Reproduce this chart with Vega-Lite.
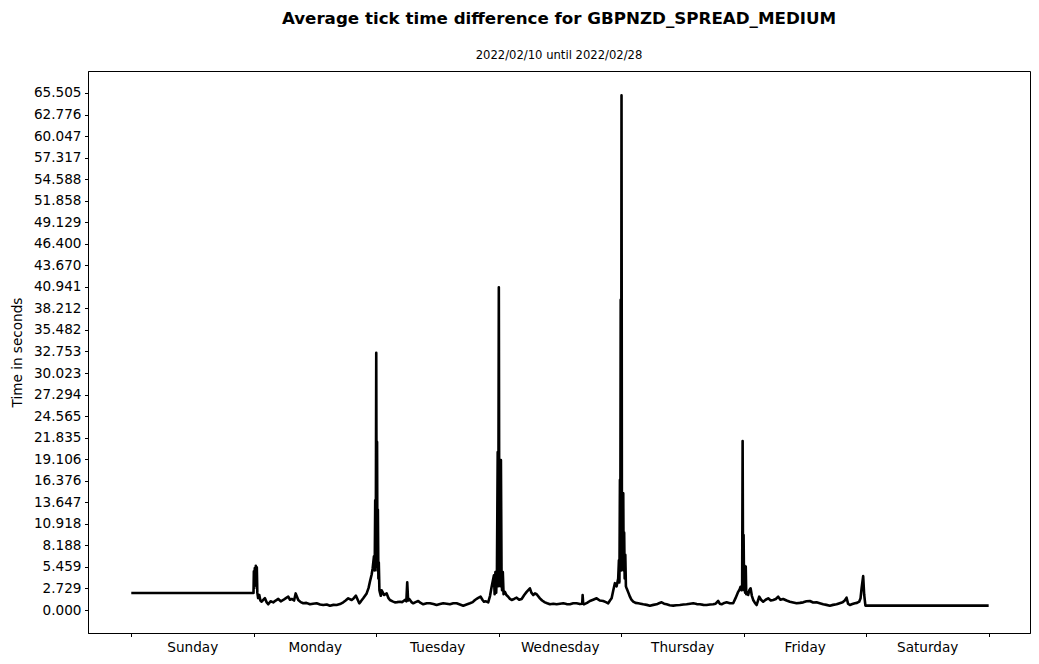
{
  "$schema": "https://vega.github.io/schema/vega-lite/v6.json",
  "width": 942,
  "height": 562,
  "autosize": "none",
  "padding": {"left": 88, "top": 71, "right": 9, "bottom": 31},
  "background": "white",
  "title": {
    "text": "Average tick time difference for GBPNZD_SPREAD_MEDIUM",
    "subtitle": "2022/02/10 until 2022/02/28",
    "font": "DejaVu Sans",
    "subtitleFont": "DejaVu Sans",
    "fontSize": 16.7,
    "fontWeight": "bold",
    "subtitleFontSize": 11.6,
    "color": "black",
    "subtitleColor": "black",
    "anchor": "middle",
    "offset": 9,
    "subtitlePadding": 23
  },
  "config": {
    "view": {"stroke": "black", "strokeWidth": 1},
    "axis": {
      "domainColor": "black",
      "domainWidth": 1,
      "tickColor": "black",
      "tickWidth": 1,
      "tickSize": 3.5,
      "labelFont": "DejaVu Sans",
      "labelFontSize": 13.6,
      "labelColor": "black",
      "labelPadding": 3.5,
      "titleFont": "DejaVu Sans",
      "titleFontSize": 13.6,
      "titleFontWeight": "normal",
      "titleColor": "black",
      "grid": false
    }
  },
  "data": {
    "values": [
      {"h": 0, "s": 2.15}, {"h": 23.95, "s": 2.15},
      {"h": 24.02, "s": 4.9}, {"h": 24.1, "s": 2.8}, {"h": 24.2, "s": 5.3}, {"h": 24.3, "s": 3.1}, {"h": 24.4, "s": 5.6}, {"h": 24.5, "s": 3.2}, {"h": 24.6, "s": 5.4}, {"h": 24.7, "s": 2.2}, {"h": 24.85, "s": 1.5},
      {"h": 25.08, "s": 1.9}, {"h": 25.3, "s": 1.2}, {"h": 25.55, "s": 1.05}, {"h": 25.9, "s": 1.3}, {"h": 26.19, "s": 1.5}, {"h": 26.5, "s": 1.0}, {"h": 26.84, "s": 0.72}, {"h": 27.3, "s": 1.1}, {"h": 27.82, "s": 0.97}, {"h": 28.3, "s": 1.2}, {"h": 28.8, "s": 1.4}, {"h": 29.3, "s": 1.1}, {"h": 29.78, "s": 1.27}, {"h": 30.3, "s": 1.5}, {"h": 30.76, "s": 1.69}, {"h": 31.1, "s": 1.3}, {"h": 31.43, "s": 1.4}, {"h": 31.9, "s": 1.2}, {"h": 32.21, "s": 2.1}, {"h": 32.72, "s": 1.27}, {"h": 33.2, "s": 1.0}, {"h": 33.7, "s": 0.85}, {"h": 34.3, "s": 0.9}, {"h": 35.01, "s": 0.72}, {"h": 35.6, "s": 0.8}, {"h": 36.32, "s": 0.85}, {"h": 37.0, "s": 0.7}, {"h": 37.62, "s": 0.63}, {"h": 38.3, "s": 0.7}, {"h": 38.93, "s": 0.55}, {"h": 39.6, "s": 0.65}, {"h": 40.24, "s": 0.63}, {"h": 40.9, "s": 0.75}, {"h": 41.54, "s": 0.97}, {"h": 42.0, "s": 1.2}, {"h": 42.51, "s": 1.48}, {"h": 43.18, "s": 1.27}, {"h": 43.6, "s": 1.5}, {"h": 44.02, "s": 1.81}, {"h": 44.67, "s": 0.85}, {"h": 45.0, "s": 1.1}, {"h": 45.45, "s": 1.48}, {"h": 46.12, "s": 2.1}, {"h": 46.5, "s": 2.8}, {"h": 46.77, "s": 3.6}, {"h": 47.1, "s": 4.5}, {"h": 47.3, "s": 5.3}, {"h": 47.55, "s": 6.8},
      {"h": 47.7, "s": 5.0}, {"h": 47.8, "s": 13.9}, {"h": 47.9, "s": 5.5}, {"h": 48.0, "s": 32.6}, {"h": 48.08, "s": 7.0}, {"h": 48.16, "s": 21.3}, {"h": 48.24, "s": 5.0}, {"h": 48.32, "s": 12.7}, {"h": 48.42, "s": 4.0}, {"h": 48.5, "s": 6.0}, {"h": 48.62, "s": 2.5}, {"h": 48.73, "s": 2.2}, {"h": 48.9, "s": 1.8}, {"h": 49.06, "s": 2.5}, {"h": 49.3, "s": 2.2}, {"h": 49.51, "s": 1.9}, {"h": 50.04, "s": 2.1}, {"h": 50.4, "s": 1.5}, {"h": 50.68, "s": 1.27}, {"h": 51.2, "s": 1.1}, {"h": 51.66, "s": 0.97}, {"h": 52.1, "s": 1.0}, {"h": 52.64, "s": 1.05}, {"h": 53.1, "s": 1.0}, {"h": 53.62, "s": 1.27}, {"h": 53.9, "s": 1.1}, {"h": 54.07, "s": 3.5}, {"h": 54.25, "s": 1.2}, {"h": 54.47, "s": 1.4}, {"h": 54.9, "s": 1.0}, {"h": 55.25, "s": 0.85}, {"h": 55.7, "s": 1.0}, {"h": 56.23, "s": 1.14}, {"h": 56.7, "s": 0.9}, {"h": 57.21, "s": 0.72}, {"h": 57.9, "s": 0.85}, {"h": 58.52, "s": 0.85}, {"h": 59.2, "s": 0.75}, {"h": 59.83, "s": 0.63}, {"h": 60.5, "s": 0.75}, {"h": 61.13, "s": 0.85}, {"h": 61.8, "s": 0.8}, {"h": 62.44, "s": 0.72}, {"h": 63.1, "s": 0.85}, {"h": 63.75, "s": 0.85}, {"h": 64.4, "s": 0.7}, {"h": 65.05, "s": 0.55}, {"h": 65.7, "s": 0.7}, {"h": 66.36, "s": 0.85}, {"h": 66.9, "s": 1.0}, {"h": 67.34, "s": 1.27}, {"h": 67.9, "s": 1.5}, {"h": 68.45, "s": 1.69}, {"h": 68.8, "s": 1.3}, {"h": 69.1, "s": 1.05}, {"h": 69.5, "s": 1.1}, {"h": 69.94, "s": 0.97}, {"h": 70.3, "s": 1.8}, {"h": 70.61, "s": 2.95}, {"h": 71.06, "s": 4.4},
      {"h": 71.2, "s": 2.0}, {"h": 71.35, "s": 4.8}, {"h": 71.5, "s": 2.2}, {"h": 71.65, "s": 4.8}, {"h": 71.8, "s": 20.0}, {"h": 71.9, "s": 3.0}, {"h": 72.02, "s": 40.9}, {"h": 72.12, "s": 4.0}, {"h": 72.22, "s": 13.0}, {"h": 72.32, "s": 3.0}, {"h": 72.43, "s": 19.0}, {"h": 72.55, "s": 4.8}, {"h": 72.65, "s": 2.5}, {"h": 72.8, "s": 4.8}, {"h": 72.95, "s": 2.0}, {"h": 73.21, "s": 2.3}, {"h": 73.5, "s": 1.9}, {"h": 73.86, "s": 1.69}, {"h": 74.2, "s": 1.4}, {"h": 74.53, "s": 1.27}, {"h": 75.0, "s": 1.4}, {"h": 75.51, "s": 1.56}, {"h": 76.0, "s": 1.3}, {"h": 76.49, "s": 1.4}, {"h": 77.0, "s": 1.9}, {"h": 77.47, "s": 2.3}, {"h": 78.11, "s": 2.75}, {"h": 78.4, "s": 2.2}, {"h": 78.76, "s": 1.9}, {"h": 79.1, "s": 2.1}, {"h": 79.43, "s": 2.0}, {"h": 80.07, "s": 1.48}, {"h": 80.5, "s": 1.2}, {"h": 81.05, "s": 0.97}, {"h": 81.5, "s": 0.85}, {"h": 82.03, "s": 0.72}, {"h": 82.7, "s": 0.8}, {"h": 83.34, "s": 0.72}, {"h": 84.0, "s": 0.8}, {"h": 84.64, "s": 0.85}, {"h": 85.3, "s": 0.75}, {"h": 85.95, "s": 0.72}, {"h": 86.6, "s": 0.85}, {"h": 87.26, "s": 0.85}, {"h": 87.9, "s": 0.75}, {"h": 88.36, "s": 0.8}, {"h": 88.44, "s": 1.9}, {"h": 88.55, "s": 0.8}, {"h": 88.69, "s": 0.72}, {"h": 89.3, "s": 0.9}, {"h": 89.87, "s": 1.14}, {"h": 90.5, "s": 1.3}, {"h": 91.18, "s": 1.48}, {"h": 91.8, "s": 1.2}, {"h": 92.47, "s": 1.14}, {"h": 93.0, "s": 1.0}, {"h": 93.45, "s": 0.85}, {"h": 93.8, "s": 1.2}, {"h": 94.12, "s": 1.48}, {"h": 94.45, "s": 2.5}, {"h": 94.77, "s": 3.4}, {"h": 95.1, "s": 3.0}, {"h": 95.41, "s": 4.0},
      {"h": 95.55, "s": 6.3}, {"h": 95.65, "s": 3.5}, {"h": 95.75, "s": 16.5}, {"h": 95.82, "s": 5.0}, {"h": 95.9, "s": 39.3}, {"h": 95.98, "s": 5.0}, {"h": 96.06, "s": 65.2}, {"h": 96.14, "s": 8.0}, {"h": 96.22, "s": 13.3}, {"h": 96.3, "s": 5.5}, {"h": 96.4, "s": 14.8}, {"h": 96.48, "s": 5.0}, {"h": 96.58, "s": 9.8}, {"h": 96.68, "s": 4.0}, {"h": 96.8, "s": 7.0}, {"h": 96.92, "s": 3.0}, {"h": 97.06, "s": 2.75}, {"h": 97.4, "s": 2.2}, {"h": 97.71, "s": 1.69}, {"h": 98.0, "s": 1.3}, {"h": 98.35, "s": 1.05}, {"h": 98.8, "s": 0.9}, {"h": 99.33, "s": 0.85}, {"h": 99.8, "s": 0.8}, {"h": 100.31, "s": 0.72}, {"h": 101.0, "s": 0.65}, {"h": 101.62, "s": 0.55}, {"h": 102.3, "s": 0.65}, {"h": 102.94, "s": 0.72}, {"h": 103.4, "s": 0.85}, {"h": 103.92, "s": 0.97}, {"h": 104.4, "s": 0.8}, {"h": 104.9, "s": 0.72}, {"h": 105.5, "s": 0.6}, {"h": 106.19, "s": 0.55}, {"h": 106.8, "s": 0.6}, {"h": 107.5, "s": 0.63}, {"h": 108.2, "s": 0.7}, {"h": 108.81, "s": 0.72}, {"h": 109.5, "s": 0.8}, {"h": 110.11, "s": 0.85}, {"h": 110.8, "s": 0.75}, {"h": 111.42, "s": 0.72}, {"h": 112.1, "s": 0.65}, {"h": 112.73, "s": 0.63}, {"h": 113.4, "s": 0.7}, {"h": 114.03, "s": 0.72}, {"h": 114.5, "s": 0.8}, {"h": 115.0, "s": 1.14}, {"h": 115.3, "s": 0.8}, {"h": 115.67, "s": 0.72}, {"h": 116.2, "s": 0.9}, {"h": 116.65, "s": 0.97}, {"h": 117.3, "s": 0.85}, {"h": 117.94, "s": 0.85}, {"h": 118.4, "s": 1.5}, {"h": 118.92, "s": 2.3}, {"h": 119.2, "s": 2.6}, {"h": 119.39, "s": 2.95}, {"h": 119.6, "s": 2.5},
      {"h": 119.7, "s": 3.2}, {"h": 119.79, "s": 21.4}, {"h": 119.88, "s": 3.0}, {"h": 119.98, "s": 9.5}, {"h": 120.08, "s": 2.5}, {"h": 120.18, "s": 5.6}, {"h": 120.28, "s": 2.2}, {"h": 120.4, "s": 5.5}, {"h": 120.5, "s": 2.0}, {"h": 120.6, "s": 2.3}, {"h": 120.88, "s": 1.9}, {"h": 121.1, "s": 2.5}, {"h": 121.35, "s": 2.75}, {"h": 121.6, "s": 1.8}, {"h": 121.86, "s": 1.27}, {"h": 122.2, "s": 0.9}, {"h": 122.53, "s": 0.63}, {"h": 122.8, "s": 1.2}, {"h": 123.04, "s": 1.69}, {"h": 123.4, "s": 1.3}, {"h": 123.82, "s": 1.05}, {"h": 124.3, "s": 1.3}, {"h": 124.8, "s": 1.48}, {"h": 125.3, "s": 1.2}, {"h": 125.78, "s": 1.27}, {"h": 126.3, "s": 1.4}, {"h": 126.76, "s": 1.69}, {"h": 127.2, "s": 1.3}, {"h": 127.74, "s": 1.4}, {"h": 128.4, "s": 1.2}, {"h": 129.05, "s": 1.05}, {"h": 129.7, "s": 0.95}, {"h": 130.37, "s": 0.85}, {"h": 131.0, "s": 0.9}, {"h": 131.66, "s": 0.97}, {"h": 132.3, "s": 1.1}, {"h": 132.97, "s": 1.14}, {"h": 133.6, "s": 0.95}, {"h": 134.28, "s": 0.97}, {"h": 134.9, "s": 0.85}, {"h": 135.58, "s": 0.72}, {"h": 136.2, "s": 0.65}, {"h": 136.89, "s": 0.55}, {"h": 137.5, "s": 0.65}, {"h": 138.2, "s": 0.72}, {"h": 138.8, "s": 0.85}, {"h": 139.38, "s": 0.97}, {"h": 139.8, "s": 1.2}, {"h": 140.16, "s": 1.56}, {"h": 140.45, "s": 0.8}, {"h": 140.81, "s": 0.63}, {"h": 141.3, "s": 0.75}, {"h": 141.79, "s": 0.85}, {"h": 142.2, "s": 0.9}, {"h": 142.63, "s": 1.05}, {"h": 142.9, "s": 1.5}, {"h": 143.1, "s": 2.75}, {"h": 143.41, "s": 4.3}, {"h": 143.6, "s": 2.0}, {"h": 143.85, "s": 0.55},
      {"h": 168.0, "s": 0.55}
    ]
  },
  "mark": {"type": "line", "color": "black", "strokeWidth": 2.6, "strokeJoin": "round", "clip": true},
  "encoding": {
    "x": {
      "field": "h",
      "type": "quantitative",
      "sort": null,
      "scale": {"domain": [-8.48, 176.1], "nice": false, "zero": false},
      "axis": {
        "title": null,
        "values": [0, 24, 48, 72, 96, 120, 144, 168],
        "labelExpr": "['Sunday','Monday','Tuesday','Wednesday','Thursday','Friday','Saturday',''][round(datum.value/24)]",
        "labelOffset": 61,
        "labelOverlap": false,
        "labelFlush": false,
        "labelBound": false
      }
    },
    "y": {
      "field": "s",
      "type": "quantitative",
      "scale": {"domain": [-2.914, 68.29], "nice": false, "zero": false},
      "axis": {
        "title": "Time in seconds",
        "titlePadding": 9,
        "values": [0, 2.729, 5.459, 8.188, 10.918, 13.647, 16.376, 19.106, 21.835, 24.565, 27.294, 30.023, 32.753, 35.482, 38.212, 40.941, 43.670, 46.400, 49.129, 51.858, 54.588, 57.317, 60.047, 62.776, 65.505],
        "format": ".3f",
        "labelOverlap": false
      }
    }
  }
}
